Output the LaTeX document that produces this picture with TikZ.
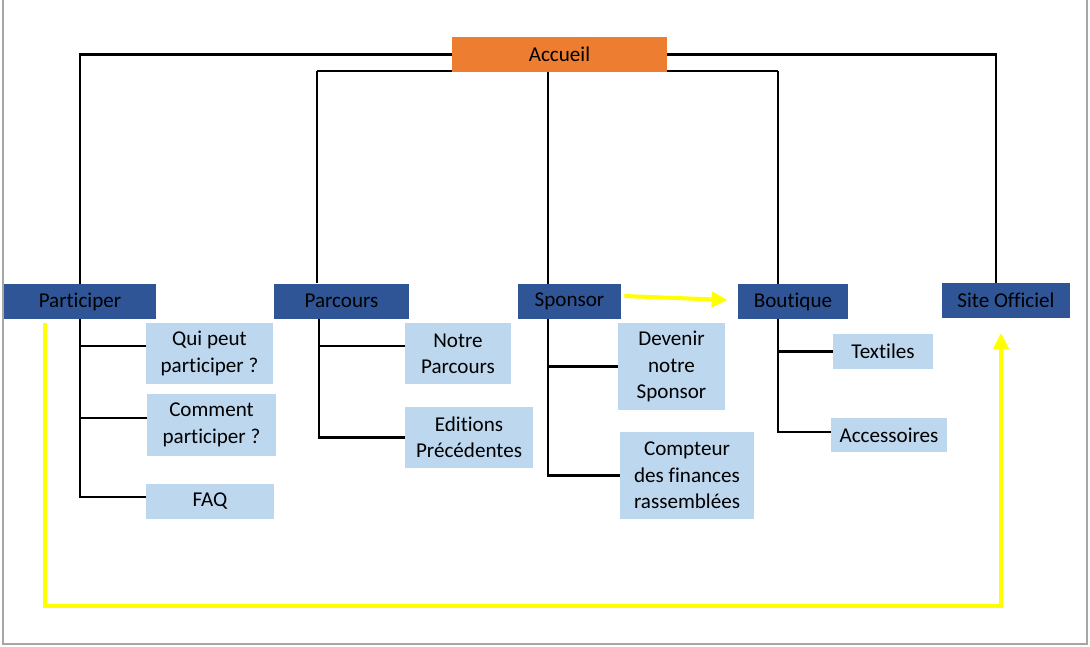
\documentclass[tikz,border=0pt]{standalone}
\usepackage{fontspec}
\setmainfont{Carlito}[Ligatures={NoCommon,NoContextual,NoRare}]
\usepackage{tikz}
\usetikzlibrary{arrows.meta,backgrounds,calc}
\definecolor{accorange}{HTML}{ED7D31}
\definecolor{pagedblue}{HTML}{2F5597}
\definecolor{subblue}{HTML}{BDD7EE}
\definecolor{markyellow}{HTML}{FFFF00}
\tikzset{
  box/.style={inner sep=0pt, align=center, font=\fontsize{12}{15}\selectfont},
  homebox/.style={box, fill=accorange, minimum width=4.3cm, minimum height=0.7cm},
  pagebox/.style={box, fill=pagedblue, minimum height=0.7cm},
  subbox/.style={box, fill=subblue},
  link/.style={black, line width=1.2pt},
  yellowlink/.style={markyellow, line width=2.8pt, -{Triangle[length=0.32cm,width=0.3cm]}}
}

\begin{document}
\begin{tikzpicture}
\useasboundingbox (0cm,0cm) rectangle (21.8cm,-12.92cm);
\draw[gray!70, line width=0.6pt] (0.06cm,0cm) -- (0.06cm,-12.88cm) -- (21.74cm,-12.88cm) -- (21.74cm,0cm);
\node[homebox] (accueil) at (11.19cm,-1.09cm) {Accueil};
\node[pagebox, minimum width=3.04cm] (particip) at (1.6cm,-6.03cm) {Participer};
\node[pagebox, minimum width=2.7cm] (parcours) at (6.83cm,-6.02cm) {Parcours};
\node[pagebox, minimum width=2.06cm] (sponsor) at (11.39cm,-6.03cm) {Sponsor};
\node[pagebox, minimum width=2.2cm] (boutique) at (15.86cm,-6.03cm) {Boutique};
\node[pagebox, minimum width=2.56cm] (site) at (20.12cm,-6.01cm) {Site Officiel};
\node[subbox, minimum width=2.54cm, minimum height=1.22cm] (qui) at (4.19cm,-7.07cm) {Qui peut\\participer ?};
\node[subbox, minimum width=2.58cm, minimum height=1.24cm] (comment) at (4.23cm,-8.5cm) {Comment\\participer ?};
\node[subbox, minimum width=2.56cm, minimum height=0.7cm] (faq) at (4.2cm,-10.03cm) {FAQ};
\node[subbox, minimum width=2.12cm, minimum height=1.22cm] (notre) at (9.16cm,-7.07cm) {Notre\\Parcours};
\node[subbox, minimum width=2.56cm, minimum height=1.22cm] (editions) at (9.38cm,-8.75cm) {Editions\\Précédentes};
\node[subbox, minimum width=2.14cm, minimum height=1.74cm] (devenir) at (13.43cm,-7.33cm) {Devenir\\notre\\Sponsor};
\node[subbox, minimum width=2.68cm, minimum height=1.74cm] (compteur) at (13.74cm,-9.51cm) {Compteur\\des finances\\rassemblées};
\node[subbox, minimum width=2cm, minimum height=0.7cm] (textiles) at (17.66cm,-7.03cm) {Textiles};
\node[subbox, minimum width=2.32cm, minimum height=0.68cm] (accessoires) at (17.78cm,-8.7cm) {Accessoires};
\coordinate (barL) at (6.34cm,-1.42cm);
\coordinate (barM) at (10.96cm,-1.42cm);
\coordinate (barR) at (15.56cm,-1.42cm);
\coordinate (yA) at (0.9cm,-6.46cm);
\coordinate (yB) at (20.02cm,-6.66cm);
\begin{scope}[on background layer]
\draw[link] (accueil.west) -| (particip.north);
\draw[link] (accueil.east) -| ([xshift=-0.2cm]site.north);
\draw[link] (barL) -- (barR);
\draw[link] (barL) -- (barL |- parcours.north);
\draw[link] (barM) -- (barM |- sponsor.north);
\draw[link] (barR) -- (barR |- boutique.north);
\end{scope}
\draw[link] (particip.south) |- ([yshift=0.15cm]qui.west);
\draw[link] (particip.south) |- ([yshift=0.14cm]comment.west);
\draw[link] (particip.south) |- ([yshift=0.09cm]faq.west);
\draw[link] ([xshift=0.04cm]barL |- parcours.south) |- ([yshift=0.15cm]notre.west);
\draw[link] ([xshift=0.04cm]barL |- parcours.south) |- (editions.west);
\draw[link] (barM |- sponsor.south) |- (devenir.west);
\draw[link] (barM |- sponsor.south) |- (compteur.west);
\draw[link] (barR |- boutique.south) |- (textiles.west);
\draw[link] (barR |- boutique.south) |- ([yshift=0.06cm]accessoires.west);
\draw[yellowlink, line width=2.3pt] ([xshift=0.06cm,yshift=0.11cm]sponsor.east) -- ([xshift=-0.2cm,yshift=0.03cm]boutique.west);
\draw[yellowlink] (yA) -- ++(0cm,-5.66cm) -| (yB);
\end{tikzpicture}
\end{document}
